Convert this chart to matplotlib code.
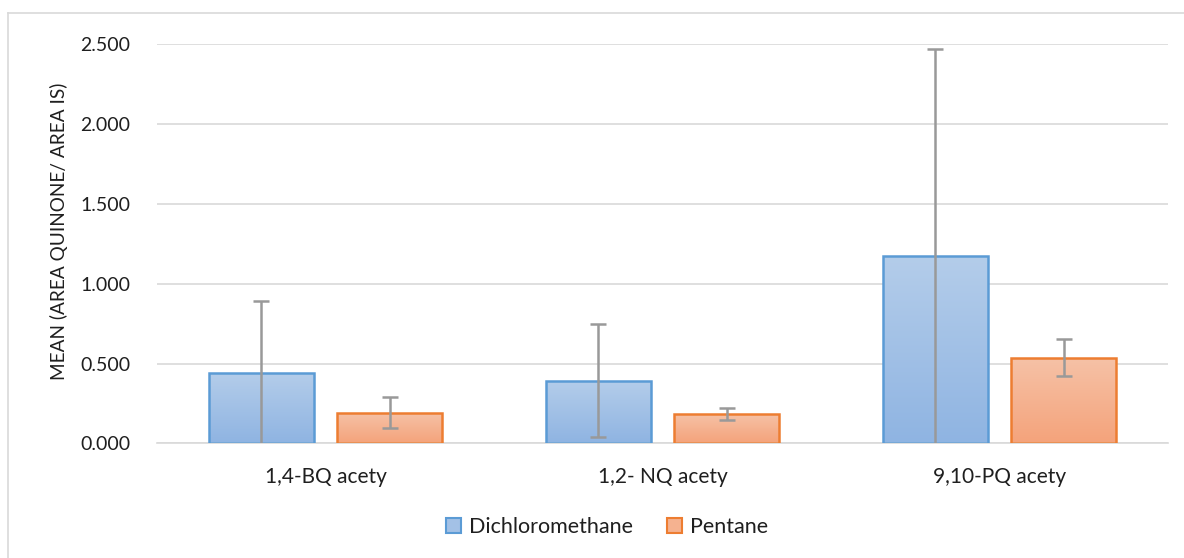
import numpy as np
import matplotlib.pyplot as plt
from matplotlib.patches import Rectangle
from matplotlib.lines import Line2D

plt.rcParams['font.family'] = ['Lato', 'DejaVu Sans']

# data
categories = ['1,4-BQ acety', '1,2- NQ acety', '9,10-PQ acety']
dcm_mean = [0.439, 0.393, 1.172]
dcm_err = [0.450, 0.355, 1.292]
pent_mean = [0.193, 0.184, 0.536]
pent_err = [0.097, 0.040, 0.116]
yticks = [0.0, 0.5, 1.0, 1.5, 2.0, 2.5]

fig = plt.figure(figsize=(11.84, 5.58), dpi=100)
ax = fig.add_axes([0.1326, 0.2052, 0.8539, 0.7168])

x = np.arange(len(categories))
w = 0.311
off = 0.191
txt = '#1f1f1f'


def gradient_bars(xpos, vals, top_col, bot_col, edge):
    bars = ax.bar(xpos, vals, width=w, facecolor='none', edgecolor=edge,
                  linewidth=1.8, zorder=3)
    grad = np.linspace(0, 1, 256)[:, None, None]
    c0 = np.array(plt.matplotlib.colors.to_rgb(top_col))
    c1 = np.array(plt.matplotlib.colors.to_rgb(bot_col))
    img = c0 * (1 - grad) + c1 * grad
    for b in bars:
        bx, by = b.get_x(), b.get_y()
        bw, bh = b.get_width(), b.get_height()
        im = ax.imshow(img, extent=(bx, bx + bw, by, by + bh), origin='upper',
                       aspect='auto', zorder=2.5)
        im.set_clip_path(Rectangle((bx, by), bw, bh, transform=ax.transData))
    return bars


gradient_bars(x - off, dcm_mean, '#b4cdea', '#8fb4e2', '#5b9bd5')
gradient_bars(x + off, pent_mean, '#f6c2a7', '#f4a37b', '#ed7d31')

ax.errorbar(x - off, dcm_mean, yerr=dcm_err, fmt='none', ecolor='#999999',
            elinewidth=1.8, capsize=6, capthick=1.8, zorder=4)
ax.errorbar(x + off, pent_mean, yerr=pent_err, fmt='none', ecolor='#999999',
            elinewidth=1.8, capsize=6, capthick=1.8, zorder=4)

ax.set_xlim(-0.5, 2.5)
ax.set_ylim(0, 2.5)
ax.set_yticks(yticks)
ax.set_yticklabels([f'{v:.3f}' for v in yticks])
ax.set_xticks(x)
ax.set_xticklabels(categories)
ax.tick_params(length=0, labelsize=14, colors=txt)
ax.tick_params(axis='y', pad=19)
ax.tick_params(axis='x', pad=17, labelsize=15)
ax.grid(axis='y', color='#d9d9d9', linewidth=1.2, zorder=0)
ax.set_axisbelow(True)
for s in ['top', 'right', 'left']:
    ax.spines[s].set_visible(False)
ax.spines['bottom'].set_color('#d9d9d9')
ax.spines['bottom'].set_linewidth(1.2)

ax.set_ylabel('MEAN (AREA QUINONE/ AREA IS)', fontsize=13.7, color=txt)
ax.yaxis.set_label_coords(-0.088, 0.53)

handles = [Rectangle((0, 0), 1, 1, facecolor='#a3c1e6', edgecolor='#5b9bd5', linewidth=1.5),
           Rectangle((0, 0), 1, 1, facecolor='#f5b290', edgecolor='#ed7d31', linewidth=1.5)]
fig.legend(handles, ['Dichloromethane', 'Pentane'], loc='center',
           bbox_to_anchor=(0.5127, 0.055), ncol=2, frameon=False, fontsize=15.5,
           handlelength=0.7, handleheight=0.7, handletextpad=0.35,
           columnspacing=1.6, labelcolor=txt)

# chart area border (top and left edges visible)
fig.add_artist(Line2D([8 / 1184, 1], [1 - 13 / 558, 1 - 13 / 558],
                      transform=fig.transFigure, color='#d9d9d9', lw=1.2))
fig.add_artist(Line2D([8 / 1184, 8 / 1184], [0, 1 - 13 / 558],
                      transform=fig.transFigure, color='#d9d9d9', lw=1.2))

fig.savefig('out.png', dpi=100)
